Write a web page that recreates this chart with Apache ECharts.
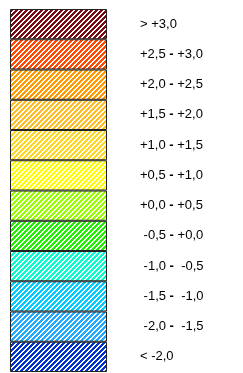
<!DOCTYPE html>
<html>
<head>
<meta charset="utf-8">
<script src="https://cdn.jsdelivr.net/npm/echarts@6/dist/echarts.min.js"></script>
<style>
  html, body { margin: 0; padding: 0; background: #fff; }
  #chart { width: 243px; height: 373px; }
</style>
</head>
<body>
<div id="chart"></div>
<script>
  var labels = ['> +3,0', '+2,5 - +3,0', '+2,0 - +2,5', '+1,5 - +2,0', '+1,0 - +1,5',
    '+0,5 - +1,0', '+0,0 - +0,5', ' -0,5 - +0,0', ' -1,0 -  -0,5', ' -1,5 -  -1,0',
    ' -2,0 -  -1,5', '< -2,0'];
  var classColors = ['#7a0a14', '#ff4a00', '#ff9a00', '#ffbf2a', '#ffd92a', '#ffff00',
    '#99ff00', '#22ee00', '#00ffcc', '#00ccff', '#22aaff', '#0033cc'];
  var values = [1, 1, 1, 1, 1, 1, 1, 1, 1, 1, 1, 1];

  // hatch tile: "/" stripes
  function hatch(col) {
    var n = 5;
    var c = document.createElement('canvas');
    c.width = n; c.height = n;
    var ctx = c.getContext('2d');
    ctx.fillStyle = '#fff';
    ctx.fillRect(0, 0, n, n);
    ctx.fillStyle = col;
    for (var x = 0; x < n; x++) {
      for (var y = 0; y < n; y++) {
        if ((x + y) % n < 3) ctx.fillRect(x, y, 1, 1);
      }
    }
    return { image: c, repeat: 'repeat' };
  }

  var chart = echarts.init(document.getElementById('chart'));
  chart.setOption({
    backgroundColor: '#fff',
    animation: false,
    grid: { left: 10, top: 9, width: 97, height: 363 },
    xAxis: { type: 'value', min: 0, max: 1, show: false },
    yAxis: {
      type: 'category',
      inverse: true,
      position: 'right',
      data: labels,
      axisLine: { show: false },
      axisTick: { show: false },
      axisLabel: {
        margin: 33,
        align: 'left',
        color: '#000',
        fontFamily: 'Liberation Sans, Arial, sans-serif',
        fontSize: 13,
        formatter: function (s) { return s.replace(' - ', ' {d|-} '); },
        rich: {
          d: { fontWeight: 'bold', fontSize: 13, color: '#000', fontFamily: 'Liberation Sans, Arial, sans-serif' }
        }
      }
    },
    series: [{
      type: 'bar',
      barWidth: '100%',
      barCategoryGap: 0,
      data: values.map(function (v, i) {
        return {
          value: v,
          itemStyle: { color: hatch(classColors[i]), borderColor: '#222', borderWidth: 1 }
        };
      })
    }]
  });
</script>
</body>
</html>
